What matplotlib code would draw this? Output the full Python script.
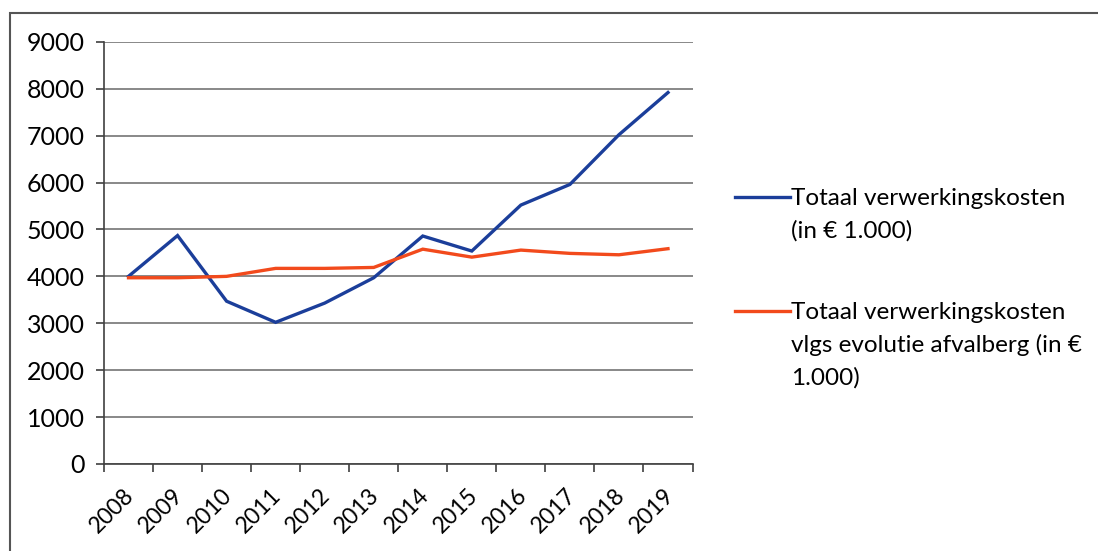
import numpy as np
import matplotlib
matplotlib.use("Agg")
import matplotlib.pyplot as plt
from matplotlib.lines import Line2D
from matplotlib.patches import Rectangle
from matplotlib.transforms import ScaledTranslation

plt.rcParams['font.family'] = ['Lato', 'DejaVu Sans']

# Data (in EUR 1.000)
years = ['2008', '2009', '2010', '2011', '2012', '2013',
         '2014', '2015', '2016', '2017', '2018', '2019']
kosten = [4000, 4870, 3470, 3020, 3430, 3970, 4860, 4540, 5520, 5960, 7020, 7920]
kosten_afvalberg = [3970, 3970, 4000, 4170, 4170, 4190, 4580, 4410, 4560, 4490, 4460, 4590]

label_kosten = "Totaal verwerkingskosten\n(in € 1.000)"
label_afval = "Totaal verwerkingskosten\nvlgs evolutie afvalberg (in €\n1.000)"

blue = '#1b3e9a'
red = '#f24a1c'
grid_col = '#7f7f7f'

fig = plt.figure(figsize=(10.98, 5.51), dpi=100)
ax = fig.add_axes([0.0947, 0.158, 0.536, 0.766])

x = np.arange(len(years))
ax.plot(x, kosten, color=blue, lw=2.4, solid_joinstyle='miter')
ax.plot(x, kosten_afvalberg, color=red, lw=2.4, solid_joinstyle='miter')

ax.set_xlim(-0.5, len(years) - 0.5)
ax.set_ylim(0, 9000)
ax.set_yticks(np.arange(0, 9001, 1000))
ax.yaxis.grid(True, color=grid_col, lw=1.3)
ax.set_axisbelow(True)

ax.set_xticks(x)
ax.set_xticklabels(years, rotation=45, ha='right', rotation_mode='anchor')
ax.set_xticks(np.arange(-0.5, len(years)), minor=True)
ax.tick_params(axis='x', which='major', length=0, pad=15, labelsize=16.5)
ax.tick_params(axis='x', which='minor', length=6, color='#404040', width=1.2)
ax.tick_params(axis='y', length=6, color='#404040', width=1.2, labelsize=18, pad=8)
shift = ScaledTranslation(-5 / 100, 0, fig.dpi_scale_trans)
for lab in ax.get_xticklabels():
    lab.set_transform(lab.get_transform() + shift)

for s in ['top', 'right']:
    ax.spines[s].set_visible(False)
ax.spines['left'].set_color('#404040')
ax.spines['bottom'].set_color('#404040')
ax.spines['left'].set_linewidth(1.2)
ax.spines['bottom'].set_linewidth(1.2)

# scanned chart frame
fig.add_artist(Rectangle((10 / 1098, -0.1), 1.2, 1 - 13 / 551 + 0.1,
                         transform=fig.transFigure, fill=False,
                         ec='#555555', lw=1.5))

# legend drawn by hand: handle aligned with first text line
entries = [(label_kosten, blue, 1 - 197 / 551), (label_afval, red, 1 - 311 / 551)]
for txt, col, ypos in entries:
    fig.add_artist(Line2D([735 / 1098, 790 / 1098], [ypos, ypos],
                          transform=fig.transFigure, color=col, lw=2.4))
    fig.text(791 / 1098, ypos + 0.016, txt, fontsize=17.5, va='top', ha='left',
             linespacing=1.6)

fig.savefig('out.png', dpi=100)
